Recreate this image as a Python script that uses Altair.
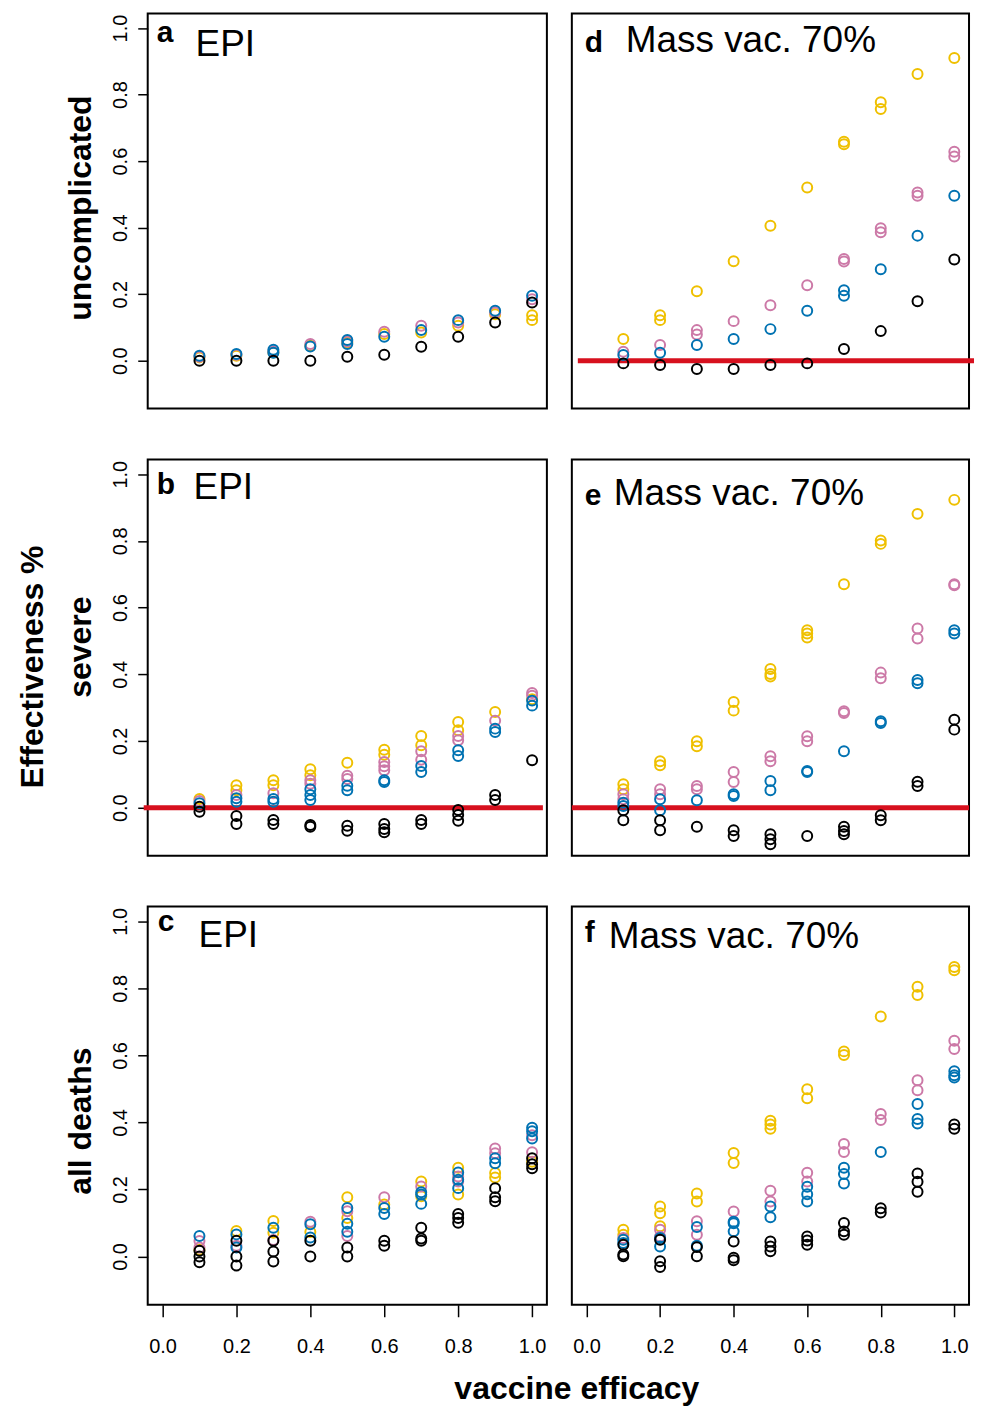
import altair as alt
import pandas as pd

# ---------------- data ----------------
EFFICACY = [0.1, 0.2, 0.3, 0.4, 0.5, 0.6, 0.7, 0.8, 0.9, 1.0]
SERIES = ["gold", "pink", "blue", "black"]
COLORS = ["#EFC000", "#CC79A7", "#0072B2", "#000000"]
TICKS = [0.0, 0.2, 0.4, 0.6, 0.8, 1.0]

# panel a : uncomplicated, EPI
A_GOLD = [[0.010], [0.015], [0.025], [0.045], [0.055], [0.080], [0.085], [0.105], [0.140], [0.137, 0.122]]
A_PINK = [[0.012], [0.018], [0.028], [0.050], [0.058], [0.087], [0.105], [0.115], [0.145], [0.185]]
A_BLUE = [[0.015], [0.020], [0.033, 0.024], [0.043], [0.062, 0.050], [0.072], [0.092], [0.122], [0.150], [0.195]]
A_BLACK = [[0.0], [0.0], [0.0], [0.0], [0.012], [0.018], [0.042], [0.072], [0.115], [0.175]]

# panel d : uncomplicated, mass vaccination 70%
D_GOLD = [[0.065], [0.137, 0.122], [0.209], [0.299], [0.406], [0.521], [0.658, 0.651], [0.777, 0.757], [0.862], [0.910]]
D_PINK = [[0.027], [0.047], [0.092, 0.079], [0.119], [0.167], [0.227], [0.306, 0.298], [0.398, 0.386], [0.506, 0.496], [0.628, 0.614]]
D_BLUE = [[0.017], [0.024], [0.047], [0.065], [0.095], [0.150], [0.212, 0.195], [0.275], [0.376], [0.496]]
D_BLACK = [[-0.008], [-0.013], [-0.025], [-0.025], [-0.013], [-0.008], [0.035], [0.089], [0.179], [0.304]]

# panel b : severe, EPI
B_GOLD = [[0.026], [0.067, 0.052], [0.082, 0.067], [0.115, 0.097], [0.135], [0.174, 0.159], [0.215, 0.187], [0.257, 0.232], [0.287], [0.325]]
B_PINK = [[0.020], [0.038], [0.043], [0.082, 0.072], [0.096, 0.086], [0.137, 0.124, 0.112], [0.169, 0.144], [0.215, 0.202], [0.261], [0.344, 0.336]]
B_BLUE = [[0.013], [0.028, 0.018], [0.026, 0.018], [0.055, 0.038, 0.023], [0.066, 0.052], [0.082, 0.077], [0.125, 0.107], [0.172, 0.155], [0.237, 0.227], [0.321, 0.306]]
B_BLACK = [[0.003, -0.012], [-0.025, -0.049], [-0.037, -0.049], [-0.052, -0.057], [-0.054, -0.069], [-0.049, -0.064, -0.074], [-0.037, -0.049], [-0.007, -0.022, -0.039], [0.038, 0.023], [0.142]]

# panel e : severe, mass vaccination 70%
E_GOLD = [[0.070, 0.055], [0.139, 0.127], [0.199, 0.184], [0.317, 0.291], [0.416, 0.401, 0.393], [0.532, 0.522, 0.510], [0.670], [0.801, 0.791], [0.881], [0.923]]
E_PINK = [[0.040, 0.025], [0.055, 0.040], [0.065, 0.055], [0.107, 0.077], [0.154, 0.139], [0.214, 0.199], [0.289, 0.284], [0.405, 0.388], [0.537, 0.507], [0.670, 0.667]]
E_BLUE = [[0.015, 0.005], [0.025, -0.008], [0.022], [0.040, 0.035], [0.080, 0.052], [0.110, 0.107], [0.169], [0.259, 0.254], [0.383, 0.373], [0.532, 0.522]]
E_BLACK = [[-0.008, -0.038], [-0.038, -0.068], [-0.057], [-0.068, -0.085], [-0.080, -0.095, -0.110], [-0.085], [-0.057, -0.070, -0.080], [-0.023, -0.038], [0.078, 0.065], [0.264, 0.234]]

# panel c : all deaths, EPI
C_GOLD = [[0.020], [0.076], [0.106, 0.071], [0.073], [0.177, 0.115], [0.155], [0.224, 0.180], [0.265, 0.185], [0.249, 0.236], [0.283]]
C_PINK = [[0.046, 0.027], [0.032], [0.049], [0.104], [0.135, 0.061], [0.177], [0.209], [0.239, 0.224], [0.322, 0.308], [0.362, 0.311]]
C_BLUE = [[0.061], [0.066, 0.027], [0.086], [0.096, 0.057], [0.145, 0.098, 0.074], [0.145, 0.127], [0.192, 0.185, 0.157], [0.251, 0.229, 0.204], [0.293, 0.278], [0.384, 0.374, 0.352]]
C_BLACK = [[0.017, 0.0, -0.017], [0.047, 0.0, -0.027], [0.047, 0.015, -0.015], [0.047, 0.0], [0.027, 0.0], [0.047, 0.032], [0.086, 0.054, 0.047], [0.127, 0.115, 0.101], [0.204, 0.177, 0.165], [0.293, 0.275, 0.263]]

# panel f : all deaths, mass vaccination 70%
F_GOLD = [[0.080, 0.065], [0.149, 0.129, 0.090], [0.188, 0.164], [0.309, 0.279], [0.405, 0.394, 0.381], [0.499, 0.472], [0.612, 0.601], [0.716], [0.805, 0.780], [0.864, 0.854]]
F_PINK = [[0.055], [0.080, 0.060], [0.105, 0.065], [0.134], [0.196, 0.164], [0.250, 0.224], [0.336, 0.312], [0.425, 0.407], [0.526, 0.496], [0.644, 0.619]]
F_BLUE = [[0.050, 0.040], [0.055, 0.030], [0.088, 0.032], [0.104, 0.099, 0.075], [0.149, 0.117], [0.208, 0.186, 0.164], [0.265, 0.246, 0.218], [0.312], [0.455, 0.410, 0.397], [0.553, 0.541, 0.534]]
F_BLACK = [[0.035, 0.006, 0.001], [0.050, -0.014, -0.031], [0.028, 0.001], [0.045, -0.004, -0.011], [0.045, 0.030, 0.016], [0.060, 0.048, 0.035], [0.100, 0.075, 0.065], [0.144, 0.131], [0.248, 0.223, 0.193], [0.394, 0.381]]

FONT = "Liberation Sans"
X_DOMAIN = [-0.04, 1.04]
Y_DOMAIN = [-0.144, 1.044]


def table(gold, pink, blue, black):
    rows = []
    for rank, (name, vals) in enumerate(zip(SERIES, [gold, pink, blue, black])):
        for eff, reps in zip(EFFICACY, vals):
            for v in reps:
                rows.append({"eff": eff, "val": v, "series": name, "rank": rank})
    return pd.DataFrame(rows)


def text_layer(txt, x, y, size, bold=False, angle=0, align="left", baseline="alphabetic"):
    return alt.Chart(pd.DataFrame({"t": [txt]})).mark_text(
        font=FONT, fontSize=size, fontWeight="bold" if bold else "normal",
        angle=angle, align=align, baseline=baseline, color="black",
    ).encode(text="t:N", x=alt.value(x), y=alt.value(y))


def panel(df, w, h, letter, title, lpos, tpos, left_axis, bottom_axis, red_span=None, extra=()):
    yaxis = alt.Axis(values=TICKS, format=".1f", labelAngle=270, labelAlign="center",
                     labelBaseline="alphabetic", tickSize=10, labelPadding=11,
                     domain=False, title=None, labelFontSize=20) if left_axis else None
    xaxis = alt.Axis(values=TICKS, format=".1f", labelAngle=0, labelAlign="center",
                     labelBaseline="top", tickSize=12, labelPadding=20,
                     domain=False, title=None, labelFontSize=20, labelFlush=False) if bottom_axis else None
    xenc = alt.X("eff:Q", scale=alt.Scale(domain=X_DOMAIN, nice=False, zero=False), axis=xaxis)
    yenc = alt.Y("val:Q", scale=alt.Scale(domain=Y_DOMAIN, nice=False, zero=False), axis=yaxis)
    layers = []
    if red_span is not None:
        layers.append(alt.Chart(pd.DataFrame({"val": [0.0]})).mark_rule(
            color="#D7101E", strokeWidth=5).encode(
            y=yenc, x=alt.value(red_span[0]), x2=alt.value(w + red_span[1])))
    pts = alt.Chart(df).mark_point(shape="circle", filled=False, size=100, strokeWidth=2, opacity=1).encode(
        x=xenc, y=yenc,
        color=alt.Color("series:N", scale=alt.Scale(domain=SERIES, range=COLORS), legend=None),
        order=alt.Order("rank:Q"),
    )
    layers.append(pts)
    layers.append(text_layer(letter, lpos[0], lpos[1], 30, bold=True))
    layers.append(text_layer(title, tpos[0], tpos[1], 37))
    layers.extend(extra)
    return alt.layer(*layers).properties(width=w, height=h)


pa = panel(table(A_GOLD, A_PINK, A_BLUE, A_BLACK), 400, 396, "a", "EPI", (9, 29), (48, 43), True, False,
           extra=[text_layer("uncomplicated", -57, 195, 32, bold=True, angle=270, align="center")])
pd_ = panel(table(D_GOLD, D_PINK, D_BLUE, D_BLACK), 398, 396, "d", "Mass vac. 70%", (13, 39), (54, 39), False, False,
            red_span=(6, 5))
pb = panel(table(B_GOLD, B_PINK, B_BLUE, B_BLACK), 400, 397, "b", "EPI", (9, 35), (46, 40), True, False,
           red_span=(-4, -4),
           extra=[text_layer("severe", -57, 188, 32, bold=True, angle=270, align="center"),
                  text_layer("Effectiveness %", -105, 208, 32, bold=True, angle=270, align="center")])
pe = panel(table(E_GOLD, E_PINK, E_BLUE, E_BLACK), 398, 397, "e", "Mass vac. 70%", (13, 46), (42, 46), False, False,
           red_span=(0, 0))
pc = panel(table(C_GOLD, C_PINK, C_BLUE, C_BLACK), 400, 399, "c", "EPI", (10, 24), (51, 40), True, True,
           extra=[text_layer("all deaths", -57, 215, 32, bold=True, angle=270, align="center"),
                  text_layer("vaccine efficacy", 430, 493, 32, bold=True, align="center")])
pf = panel(table(F_GOLD, F_PINK, F_BLUE, F_BLACK), 398, 399, "f", "Mass vac. 70%", (13, 35), (37, 41), False, True)

chart = alt.concat(pa, pd_, pb, pe, pc, pf, columns=2, spacing={"row": 51, "column": 25},
                   bounds="flush", align="each").properties(
    padding={"left": 8, "top": 3, "right": 0, "bottom": 0}
).configure_view(stroke="black", strokeWidth=2).configure_axis(
    grid=False, labelFont=FONT, labelColor="black", tickColor="black", tickWidth=1.5
)

chart.save("out.html", embed_options={"renderer": "svg", "actions": False})
